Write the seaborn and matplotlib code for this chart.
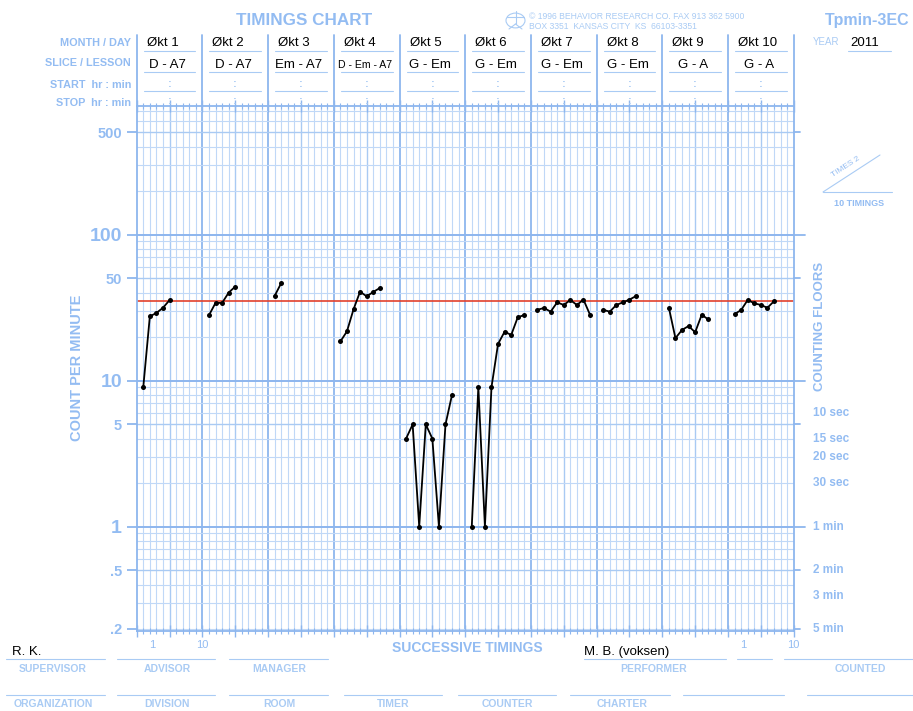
import numpy as np
import pandas as pd
import matplotlib
matplotlib.use("Agg")
import matplotlib.pyplot as plt
import seaborn as sns
from matplotlib.lines import Line2D
from matplotlib.patches import Circle

# ---- data ----
sessions = ["Økt 1", "Økt 2", "Økt 3", "Økt 4", "Økt 5",
            "Økt 6", "Økt 7", "Økt 8", "Økt 9", "Økt 10"]
lessons = ["D - A7", "D - A7", "Em - A7", "D - Em - A7", "G - Em",
           "G - Em", "G - Em", "G - Em", "G - A", "G - A"]
first_timing = [1, 11, 21, 31, 41, 51, 61, 71, 81, 91]

okt1 = [9, 27.5, 29, 31.5, 35.5]
okt2 = [28, 34, 34, 40, 44]
okt3 = [38, 46.5]
okt4 = [18.5, 21.7, 30.7, 40.6, 37.7, 40.4, 43]
okt5 = [4, 5, 1, 5, 4, 1, 5, 8]
okt6 = [1, 9, 1, 9, 17.8, 21.6, 20.5, 27.1, 28.1]
okt7 = [30.5, 31.4, 29.6, 34.3, 32.9, 35.6, 32.9, 35.8, 28.2]
okt8 = [30.5, 29.6, 32.9, 34.3, 35.8, 37.9]
okt9 = [31.5, 19.5, 22.2, 23.6, 21.4, 28.2, 26.2]
okt10 = [28.5, 30.4, 35.6, 33.8, 32.9, 31.5, 34.9]
all_counts = [okt1, okt2, okt3, okt4, okt5, okt6, okt7, okt8, okt9, okt10]

aim = 35
year = "2011"
supervisor = "R. K."
performer = "M. B. (voksen)"

left_ticks = [0.2, 0.5, 1, 5, 10, 50, 100, 500]
left_labels = [".2", ".5", "1", "5", "10", "50", "100", "500"]
floor_vals = [6, 4, 3, 2, 1, 0.5, 1 / 3, 0.2]
floor_labels = ["10 sec", "15 sec", "20 sec", "30 sec", "1 min", "2 min", "3 min", "5 min"]

rows = []
for name, start, vals in zip(sessions, first_timing, all_counts):
    for i, v in enumerate(vals):
        rows.append((name, start + i, v))
df = pd.DataFrame(rows, columns=["session", "timing", "count"])

# ---- style ----
sns.set_style("white")
plt.rcParams["font.family"] = ["Liberation Sans", "DejaVu Sans"]
BLUE = "#93bcf2"
LBLUE = "#a9cbf4"
GRID = "#c0d8f7"
GRID5 = "#a9caf3"
GRID10 = "#8db6ee"

W, H = 913, 711
def fx(px):
    return px / W
def fy(py):
    return 1 - py / H

fig = plt.figure(figsize=(W / 100, H / 100), dpi=100)
ax = fig.add_axes([fx(136.7), fy(631), 657 / W, 525 / H])
ax.set_yscale("log")
ax.set_xlim(0, 100)
ax.set_ylim(10 ** ((526.5 - 631) / 146), 10 ** ((526.5 - 106) / 146))

# grid
for t in range(1, 100):
    if t % 10 == 0:
        ax.axvline(t, color=GRID10, lw=1.3, zorder=0)
    elif t % 5 == 0:
        ax.axvline(t, color=GRID5, lw=1.0, zorder=0)
    else:
        ax.axvline(t, color=GRID, lw=0.8, zorder=0)
for k in range(-1, 3):
    for m in range(1, 10):
        v = m * 10 ** k
        if m == 1:
            ax.axhline(v, color=GRID10, lw=1.4, zorder=0)
        elif m == 5:
            ax.axhline(v, color=GRID5, lw=1.0, zorder=0)
        else:
            ax.axhline(v, color=GRID, lw=0.8, zorder=0)

for s in ax.spines.values():
    s.set_color(GRID10)
    s.set_linewidth(1.3)

# aim line
ax.axhline(aim, color="#e2412c", lw=1.2, zorder=2)

# data
sns.lineplot(data=df, x="timing", y="count", units="session", estimator=None,
             color="black", lw=1.3, marker="o", markersize=3.6,
             markeredgewidth=0, ax=ax, legend=False, zorder=3)
ax.set_xlabel("")
ax.set_ylabel("")

# x ticks (top & bottom, no labels)
ax.set_xticks(np.arange(0, 101, 5))
ax.set_xticks(np.arange(0, 101, 1), minor=True)
ax.tick_params(axis="x", which="both", top=True, bottom=True, direction="inout",
               labelbottom=False, color=GRID10)
ax.tick_params(axis="x", which="major", length=8, width=1)
ax.tick_params(axis="x", which="minor", length=5, width=0.8)

# y ticks
ax.set_yticks(left_ticks)
ax.set_yticks([], minor=True)
ax.set_yticklabels(left_labels)
ax.tick_params(axis="y", which="major", left=True, length=7.5, width=1.3,
               color=GRID10, pad=3, labelcolor=BLUE)
for lab in ax.get_yticklabels():
    big = lab.get_text() in ("1", "10", "100")
    lab.set_fontsize(14 if big else 10.5)
    lab.set_fontweight("bold")

ytr = ax.get_yaxis_transform()
for v in left_ticks:
    ln = 0.017 if v in (1, 10, 100) else 0.009
    ax.plot([1, 1 + ln], [v, v], color=GRID10, lw=1.3, transform=ytr, clip_on=False)
for v, lab in zip(floor_vals, floor_labels):
    ax.text(1.03, v, lab, transform=ytr, ha="left", va="center",
            fontsize=8.5, fontweight="bold", color=BLUE)

# bottom tick numbers
xtr = ax.get_xaxis_transform()
for xv, lab in [(2.4, "1"), (10, "10"), (92.3, "1"), (99.9, "10")]:
    ax.text(xv, -0.018, lab, transform=xtr, ha="center", va="top",
            fontsize=8, color=BLUE)

# header column lines
for t in range(0, 101, 10):
    ax.plot([t, t], [1, 1.135], color=GRID10, lw=1.3, transform=xtr, clip_on=False)

# axis titles
fig.text(fx(77), fy(368), "COUNT PER MINUTE", rotation=90, ha="center", va="center",
         fontsize=10.5, fontweight="bold", color=BLUE)
fig.text(fx(820), fy(326), "COUNTING FLOORS", rotation=90, ha="center", va="center",
         fontsize=9.5, fontweight="bold", color=BLUE)
fig.text(fx(467), fy(648), "SUCCESSIVE TIMINGS", ha="center", va="center",
         fontsize=10, fontweight="bold", color=BLUE)

# header
fig.text(fx(304), fy(20.5), "TIMINGS CHART", ha="center", va="center",
         fontsize=12.3, fontweight="bold", color=BLUE)
fig.text(fx(867), fy(20.5), "Tpmin-3EC", ha="center", va="center",
         fontsize=11.5, fontweight="bold", color=BLUE)
fig.add_artist(Circle((fx(515.5), fy(20.5)), 9.5 / W, transform=fig.transFigure,
                      fill=False, ec=LBLUE, lw=0.8))
for (x0, y0, x1, y1) in [(515.5, 11, 515.5, 24), (507, 17, 524, 17),
                         (515.5, 24, 509, 29), (515.5, 24, 522, 29)]:
    fig.add_artist(Line2D([fx(x0), fx(x1)], [fy(y0), fy(y1)], color=LBLUE, lw=0.8))
fig.text(fx(529), fy(16.7), "© 1996 BEHAVIOR RESEARCH CO. FAX 913 362 5900",
         ha="left", va="center", fontsize=6.2, color=LBLUE)
fig.text(fx(529), fy(26.7), "BOX 3351  KANSAS CITY  KS  66103-3351",
         ha="left", va="center", fontsize=6.2, color=LBLUE)

for lab, yy in [("MONTH / DAY", 42.7), ("SLICE / LESSON", 63.3),
                ("START  hr : min", 85), ("STOP  hr : min", 103.3)]:
    fig.text(fx(131), fy(yy), lab, ha="right", va="center",
             fontsize=7.8, fontweight="bold", color=BLUE)

col_w = 657 / 10
for i, (name, les) in enumerate(zip(sessions, lessons)):
    cl = 136.7 + i * col_w
    cc = cl + col_w / 2
    fig.text(fx(cl + 10), fy(43), name, ha="left", va="center", fontsize=9.5, color="black")
    fig.text(fx(cc - 2), fy(64.5), les, ha="center", va="center",
             fontsize=7.6 if len(les) > 8 else 9.5, color="black")
    for yy in (84, 101):
        fig.text(fx(cc), fy(yy), ":", ha="center", va="center",
                 fontsize=8, fontweight="bold", color=LBLUE)
    for yy in (50.7, 72.3, 90.7):
        fig.add_artist(Line2D([fx(cl + 7), fx(cl + col_w - 7)], [fy(yy), fy(yy)],
                              color=LBLUE, lw=0.8))

fig.text(fx(813), fy(42), "YEAR", ha="left", va="center", fontsize=7, color=LBLUE)
fig.text(fx(850), fy(43), year, ha="left", va="center", fontsize=9.5, color="black")
fig.add_artist(Line2D([fx(848), fx(891)], [fy(50.7), fy(50.7)], color=LBLUE, lw=0.8))

# "times 2 / 10 timings" legend
fig.add_artist(Line2D([fx(823), fx(880)], [fy(192), fy(155)], color=LBLUE, lw=0.8))
fig.add_artist(Line2D([fx(823), fx(892)], [fy(192), fy(192)], color=LBLUE, lw=0.8))
fig.text(fx(846), fy(167), "TIMES 2", rotation=33, ha="center", va="center",
         fontsize=6, color=BLUE)
fig.text(fx(859), fy(203), "10 TIMINGS", ha="center", va="center",
         fontsize=6.5, fontweight="bold", color=BLUE)

# bottom form fields
fig.text(fx(12), fy(652), supervisor, ha="left", va="center", fontsize=9.5, color="black")
fig.text(fx(584), fy(652), performer, ha="left", va="center", fontsize=9.5, color="black")
row1 = [(6, 105), (117, 215), (229, 328), (584, 726), (737, 772), (784, 913)]
row2 = [(6, 105), (117, 215), (229, 328), (344, 442), (458, 556), (570, 670),
        (683, 784), (807, 913)]
for a, b in row1:
    fig.add_artist(Line2D([fx(a), fx(b)], [fy(659), fy(659)], color=LBLUE, lw=0.8))
for a, b in row2:
    fig.add_artist(Line2D([fx(a), fx(b)], [fy(695), fy(695)], color=LBLUE, lw=0.8))
for lab, xx in [("SUPERVISOR", 53), ("ADVISOR", 167), ("MANAGER", 279),
                ("PERFORMER", 654), ("COUNTED", 860)]:
    fig.text(fx(xx), fy(669.5), lab, ha="center", va="center",
             fontsize=7.5, fontweight="bold", color=LBLUE)
for lab, xx in [("ORGANIZATION", 53), ("DIVISION", 167), ("ROOM", 279),
                ("TIMER", 393), ("COUNTER", 507), ("CHARTER", 622)]:
    fig.text(fx(xx), fy(704), lab, ha="center", va="center",
             fontsize=7.5, fontweight="bold", color=LBLUE)

fig.savefig("out.png", dpi=100)
